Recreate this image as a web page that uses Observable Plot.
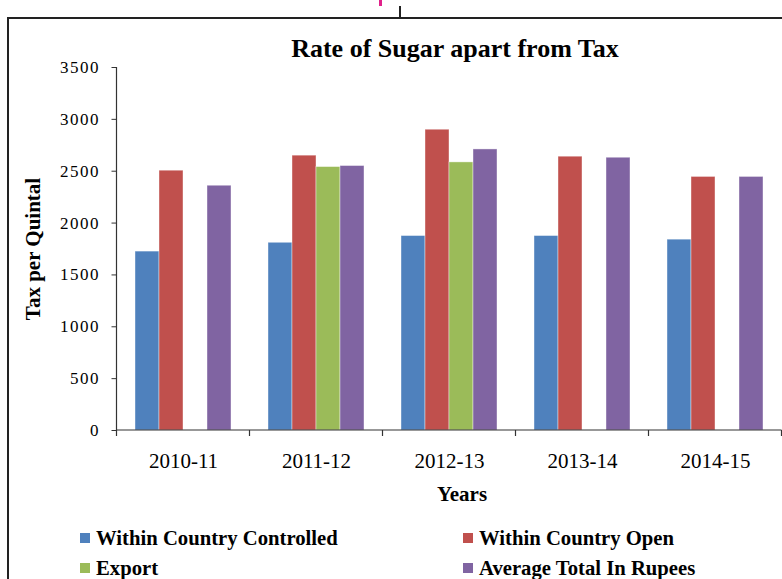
<!DOCTYPE html>
<html>
<head>
<meta charset="utf-8">
<script src="https://cdn.jsdelivr.net/npm/d3@7"></script>
<script src="https://cdn.jsdelivr.net/npm/@observablehq/plot@0.6"></script>
<style>
  html, body { margin: 0; padding: 0; background: #fff; }
  body { width: 782px; height: 579px; position: relative; overflow: hidden; font-family: "Liberation Serif", "Times New Roman", serif; color: #000; }
  #frame { position: absolute; left: 7px; top: 17px; width: 800px; height: 600px; border-left: 2px solid #222; border-top: 2px solid #222; }
  #topTick { position: absolute; left: 399px; top: 6px; width: 2px; height: 12px; background: #222; }
  #pink { position: absolute; left: 379px; top: 0px; width: 3px; height: 6px; background: #e0218a; }
  #title { position: absolute; left: 0; width: 910px; top: 34px; text-align: center; font-weight: bold; font-size: 26px; line-height: 30px; }
  #chart { position: absolute; left: 0; top: 0; }
  #chart svg text { font-family: "Liberation Serif", "Times New Roman", serif !important; fill: #000; }
  g[aria-label="fx-axis tick label"] text { font-size: 21px !important; }
  g[aria-label="y-axis tick label"] text { font-size: 17px !important; letter-spacing: 1.5px; }
  g[aria-label="y-axis label"] text { font-size: 21px !important; font-weight: bold; }
  g[aria-label="y-axis tick"] path, g[aria-label="y-axis tick"] line { stroke: #333; }
  #xlabel { position: absolute; left: 0; width: 924px; top: 481px; text-align: center; font-weight: bold; font-size: 21px; line-height: 26px; }
  .leg { position: absolute; font-weight: bold; font-size: 20.7px; line-height: 24px; white-space: nowrap; }
  .sw { position: absolute; width: 10px; height: 10px; }
</style>
</head>
<body>
<div id="frame"></div>
<div id="topTick"></div>
<div id="pink"></div>
<div id="title">Rate of Sugar apart from Tax</div>
<div id="chart"></div>
<div id="xlabel">Years</div>
<div id="legend"></div>
<script>
const years = ["2010-11", "2011-12", "2012-13", "2013-14", "2014-15"];
const series = ["Within Country Controlled", "Within Country Open", "Export", "Average Total In Rupees"];
const controlled = [1725, 1810, 1875, 1875, 1840];
const open = [2505, 2650, 2900, 2640, 2445];
const exportVals = [null, 2540, 2585, null, null];
const average = [2360, 2550, 2710, 2630, 2445];
const colors = ["#4F81BD", "#C0504D", "#9BBB59", "#8064A2"];
const yTicks = [0, 500, 1000, 1500, 2000, 2500, 3000, 3500];

const seriesValues = [controlled, open, exportVals, average];
const rows = [];
years.forEach((yr, i) => {
  series.forEach((s, j) => {
    const v = seriesValues[j][i];
    if (v != null) rows.push({year: yr, series: s, value: v});
  });
});

const chart = Plot.plot({
  width: 782,
  height: 520,
  marginTop: 67,
  marginBottom: 90,
  marginLeft: 117,
  marginRight: 0,
  style: {fontFamily: "'Liberation Serif', 'Times New Roman', serif", fontSize: "17px", color: "#000", background: "transparent"},
  fx: {domain: years, paddingInner: 0.278, paddingOuter: 0.139, axis: "bottom", label: null, tickSize: 0, tickPadding: 23},
  x: {domain: series, axis: null, padding: 0},
  y: {domain: [0, 3500], ticks: yTicks, tickFormat: d3.format("d"), tickSize: 5, tickPadding: 12,
      label: "Tax per Quintal", labelAnchor: "center", labelArrow: "none", labelOffset: 92},
  color: {domain: series, range: colors},
  marks: [
    Plot.barY(rows, {fx: "year", x: "series", y: "value", fill: "series", stroke: "#ffffff", strokeOpacity: 0.5, strokeWidth: 0.8})
  ]
});
document.getElementById("chart").appendChild(chart);

// positions derived from Plot's own scales
const fxS = chart.scale("fx");
const yS = chart.scale("y");
const svg = d3.select(chart);
const st = fxS.apply(years[1]) - fxS.apply(years[0]);
const half = (st - fxS.bandwidth) / 2;
const bounds = years.map(d => fxS.apply(d) - half);
bounds.push(fxS.apply(years[years.length - 1]) + fxS.bandwidth + half);
const left = bounds[0];
const y0 = yS.apply(0);
const yTop = yS.apply(yTicks[yTicks.length - 1]);

// the y axis is attached to the first facet; move it to the frame's left edge
const shift = left - fxS.apply(years[0]);
svg.selectAll('g[aria-label="y-axis tick"], g[aria-label="y-axis tick label"], g[aria-label="y-axis label"]')
  .each(function () {
    const el = d3.select(this);
    const tr = el.attr("transform") || "";
    el.attr("transform", `translate(${shift},0) ${tr}`);
  });

const g = svg.append("g").attr("stroke", "#333").attr("stroke-width", 1.2);
g.append("line").attr("x1", left).attr("x2", bounds[bounds.length - 1]).attr("y1", y0).attr("y2", y0);
g.append("line").attr("x1", left).attr("x2", left).attr("y1", yTop).attr("y2", y0);
g.selectAll("line.bt").data(bounds).join("line").attr("class", "bt")
  .attr("x1", d => d).attr("x2", d => d).attr("y1", y0).attr("y2", y0 + 6);

// legend
const legPos = [[80, 526], [463, 526], [80, 556], [463, 556]];
const legend = document.getElementById("legend");
series.forEach((s, i) => {
  const sw = document.createElement("div");
  sw.className = "sw";
  sw.style.left = legPos[i][0] + "px";
  sw.style.top = (legPos[i][1] + 7) + "px";
  sw.style.background = colors[i];
  legend.appendChild(sw);
  const t = document.createElement("div");
  t.className = "leg";
  t.style.left = (legPos[i][0] + 16) + "px";
  t.style.top = legPos[i][1] + "px";
  t.textContent = s;
  legend.appendChild(t);
});
</script>
</body>
</html>
